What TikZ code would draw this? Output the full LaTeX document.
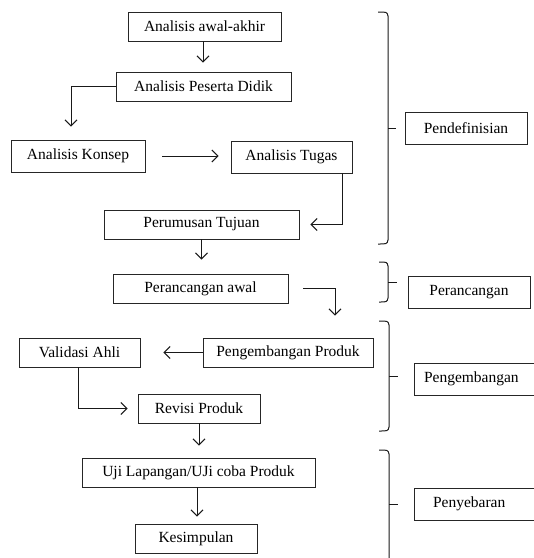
\documentclass[tikz,border=0pt]{standalone}
\usepackage{fontspec}
\setmainfont{Liberation Serif}
\usetikzlibrary{arrows.meta}
\begin{document}
\begin{tikzpicture}[x=1pt,y=-1pt,
  box/.style={draw=black!85, line width=0.9pt, inner sep=0pt, align=center,
    font=\fontsize{15.5}{18}\selectfont},
  arr/.style={draw=black!90, line width=1pt, -{Straight Barb[length=6pt,width=12pt,line width=1pt]}},
  brc/.style={draw=black!90, line width=1pt}]
\useasboundingbox (0,0) rectangle (534,558);
\clip (0,0) rectangle (534,558);
% left column nodes
\node[box, minimum width=153pt, minimum height=29pt] (aa)  at (204.5,26.5) {Analisis awal-akhir};
\node[box, minimum width=175pt, minimum height=29pt] (apd) at (203.5,86.5) {Analisis Peserta Didik};
\node[box, minimum width=134pt, minimum height=32pt] (ak)  at (78,156)    {Analisis Konsep};
\node[box, minimum width=121pt, minimum height=32pt] (at)  at (291.5,157) {Analisis Tugas};
\node[box, minimum width=195pt, minimum height=29pt] (pt)  at (201.5,224.5) {Perumusan Tujuan};
\node[box, minimum width=175pt, minimum height=29pt] (pa)  at (200.5,288.5) {Perancangan awal};
\node[box, minimum width=170pt, minimum height=29pt] (pp)  at (288,352.5) {Pengembangan Produk};
\node[box, minimum width=121pt, minimum height=29pt] (va)  at (79.5,352.5) {Validasi Ahli};
\node[box, minimum width=122pt, minimum height=29pt] (rp)  at (199,408.5) {Revisi Produk};
\node[box, minimum width=233pt, minimum height=29pt] (uj)  at (198.5,472.5) {Uji Lapangan/UJi coba Produk};
\node[box, minimum width=122pt, minimum height=29pt] (ks)  at (196,538.5) {Kesimpulan};
% right column nodes
\node[box, minimum width=122pt, minimum height=32pt] (pdf) at (466,128) {Pendefinisian};
\node[box, minimum width=122pt, minimum height=32pt] (pr)  at (469,292) {Perancangan};
\node[box, minimum width=132pt, minimum height=32pt, text width=120pt, align=left] (pg) at (480,379) {\hspace*{4pt}Pengembangan};
\node[box, minimum width=132pt, minimum height=32pt, text width=120pt, align=left] (py) at (480,504) {\hspace*{13pt}Penyebaran};
% connectors
\draw[arr, shorten >=9pt] ([xshift=-1.5pt]aa.south) -- ([xshift=-1.5pt]aa.south |- apd.north);
\draw[arr, shorten >=13pt] (apd.west) -| ([xshift=-7pt]ak.north);
\draw[arr, shorten <=17pt, shorten >=12pt] (ak.east) -- (at.west |- ak.east);
\draw[arr, shorten >=11pt] ([xshift=50.5pt]at.south) |- (pt.east);
\draw[arr, shorten >=14pt] (pt.south) -- (pt.south |- pa.north);
\draw[arr, shorten <=15pt, shorten >=22pt] (pa.east) -| ([xshift=47pt]pp.north);
\draw[arr, shorten >=23pt] (pp.west) -- (va.east);
\draw[arr, shorten >=10pt] ([xshift=-1.5pt]va.south) |- (rp.west);
\draw[arr, shorten >=12pt] (rp.south) -- (rp.south |- uj.north);
\draw[arr, shorten >=7pt] ([xshift=-1.5pt]uj.south) -- ([xshift=-1.5pt]uj.south |- ks.north);
% braces
\draw[brc] (378,12) .. controls (387,12) .. (388,16) -- (388,240) .. controls (387,244) .. (378,244);
\draw[brc] (388,128) -- (396,128);
\draw[brc] (379,262) .. controls (387,262) .. (388,266) -- (388,298) .. controls (387,302) .. (379,302);
\draw[brc] (388,282) -- (397,282);
\draw[brc] (379,321) .. controls (388,321) .. (389,325) -- (389,427) .. controls (388,431) .. (379,431);
\draw[brc] (389,376) -- (398,376);
\draw[brc] (379,450) .. controls (388,450) .. (389,454) -- (389,570);
\draw[brc] (389,504) -- (398,504);
\end{tikzpicture}
\end{document}
